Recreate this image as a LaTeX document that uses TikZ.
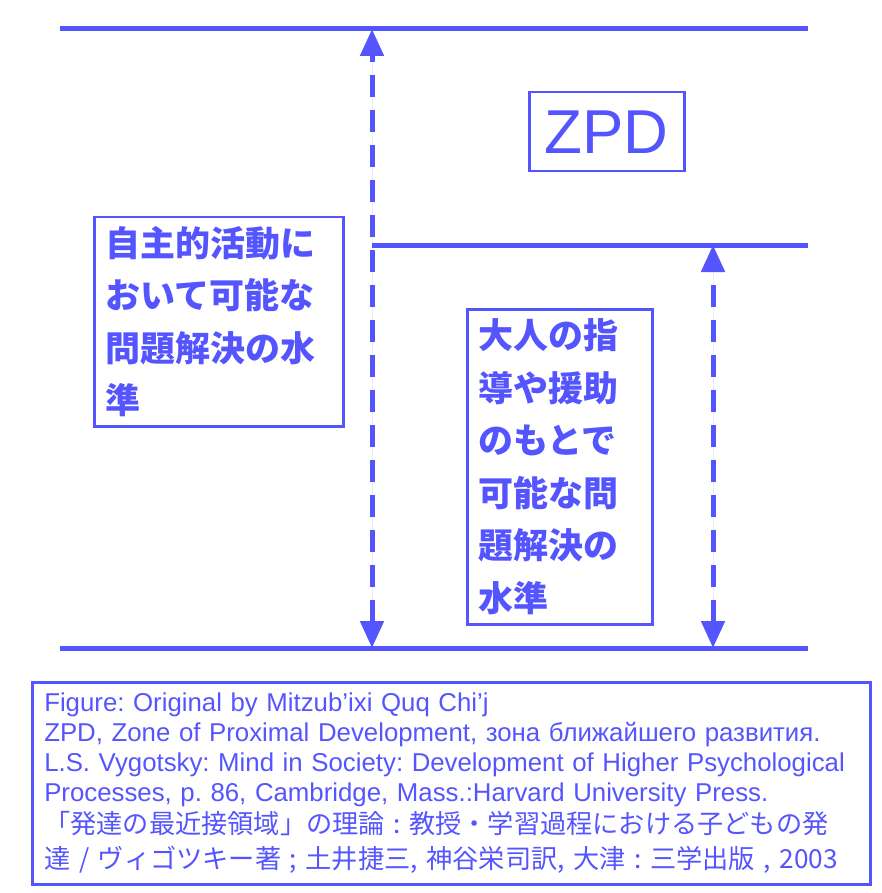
\documentclass[tikz,border=0pt]{standalone}
\usepackage{fontspec}
\setmainfont{Liberation Sans}
\newfontfamily\jp{Noto Sans CJK JP}
\usetikzlibrary{arrows.meta}
\definecolor{zpdblue}{HTML}{5555FF}

\begin{document}
\frenchspacing
\begin{tikzpicture}[
		x=1pt, y=-1pt,
		>={Triangle[length=27pt,width=23pt]},
		level/.style={draw=zpdblue, line width=5pt},
		span/.style={draw=zpdblue, fill=zpdblue, line width=5pt, dash pattern=on 22pt off 13pt, <->},
		box/.style={
				rectangle,
				draw=zpdblue,
				line width=2.5pt,
				text=zpdblue,
				anchor=north west,
				inner xsep=11pt,
				align=left
			},
		jpbox/.style={box, font=\jp\bfseries\fontsize{35}{52.5}\selectfont},
		caption/.style={box, inner xsep=12pt, inner ysep=6pt, font=\fontsize{25.8}{30}\selectfont, text width=814pt}
	]
	\useasboundingbox (0,0) rectangle (882,893);

	% Levels
	\coordinate (topL) at (60,29);
	\coordinate (topR) at (808,29);
	\coordinate (midL) at (372,245);
	\coordinate (midR) at (808,245);
	\coordinate (botL) at (60,648);
	\coordinate (botR) at (808,648);
	\coordinate (leftTop) at (372,29);
	\coordinate (leftBot) at (372,648);
	\coordinate (rightTop) at (713,245);
	\coordinate (rightBot) at (713,648);

	\draw[level] (topL) -- (topR);
	\draw[level] (midL) -- (midR);
	\draw[level] (botL) -- (botR);

	% Arrows
	\draw[span] (leftBot) -- (leftTop);
	\draw[span] (rightBot) -- (rightTop);

	% Boxes
	\node[box, inner sep=0pt, minimum width=155pt, minimum height=79pt, font=\fontsize{62}{62}\selectfont] (zpd) at (528,91) {ZPD};
	\node[jpbox, text width=227pt, minimum height=209pt] (alone) at (93,216) {自主的活動に\\おいて可能な\\問題解決の水\\準};
	\node[jpbox, text width=163pt, minimum height=315pt] (guided) at (466,308) {大人の指\\導や援助\\のもとで\\可能な問\\題解決の\\水準};

	% Source
	\node[caption, minimum height=202pt] (source) at (31,681) {Figure: Original by Mitzub\char"27 ixi Quq Chi\char"27 j\\
		ZPD, Zone of Proximal Development, зона ближайшего развития.\\
		L.S. Vygotsky: Mind in Society: Development of Higher Psychological\\
		Processes, p. 86, Cambridge, Mass.:Harvard University Press.\\[2pt]
		{\jp\fontsize{26.2}{30}\selectfont 「発達の最近接領域」の理論 : 教授・学習過程における子どもの発}\\[5pt]
		{\jp\fontsize{26.2}{30}\selectfont 達 / ヴィゴツキー著 ; 土井捷三, 神谷栄司訳,\ 大津 : 三学出版 , 2003}};

\end{tikzpicture}
\end{document}
